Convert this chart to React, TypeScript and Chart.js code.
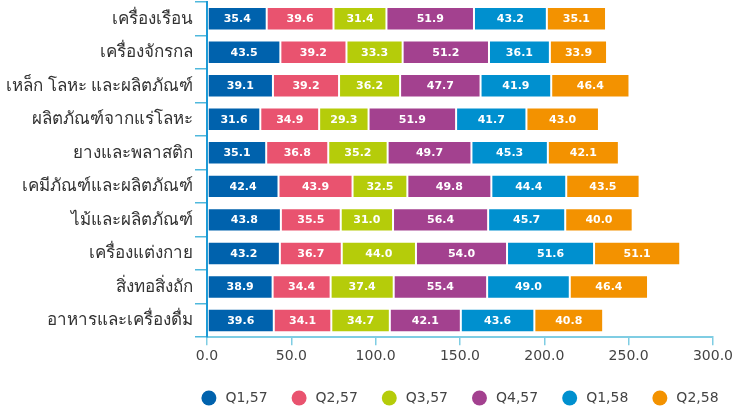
import React, { useEffect, useRef } from "react";
import { Chart, registerables } from "chart.js";

Chart.register(...registerables);

const categories = [
  "เครื่องเรือน",
  "เครื่องจักรกล",
  "เหล็ก โลหะ และผลิตภัณฑ์",
  "ผลิตภัณฑ์จากแร่โลหะ",
  "ยางและพลาสติก",
  "เคมีภัณฑ์และผลิตภัณฑ์",
  "ไม้และผลิตภัณฑ์",
  "เครื่องแต่งกาย",
  "สิ่งทอสิ่งถัก",
  "อาหารและเครื่องดื่ม",
];

const seriesNames = ["Q1,57", "Q2,57", "Q3,57", "Q4,57", "Q1,58", "Q2,58"];
const seriesColors = ["#0062ad", "#e9536f", "#b5cc0a", "#a3418f", "#0090cf", "#f39200"];

const q1_57 = [35.4, 43.5, 39.1, 31.6, 35.1, 42.4, 43.8, 43.2, 38.9, 39.6];
const q2_57 = [39.6, 39.2, 39.2, 34.9, 36.8, 43.9, 35.5, 36.7, 34.4, 34.1];
const q3_57 = [31.4, 33.3, 36.2, 29.3, 35.2, 32.5, 31.0, 44.0, 37.4, 34.7];
const q4_57 = [51.9, 51.2, 47.7, 51.9, 49.7, 49.8, 56.4, 54.0, 55.4, 42.1];
const q1_58 = [43.2, 36.1, 41.9, 41.7, 45.3, 44.4, 45.7, 51.6, 49.0, 43.6];
const q2_58 = [35.1, 33.9, 46.4, 43.0, 42.1, 43.5, 40.0, 51.1, 46.4, 40.8];

const seriesValues = [q1_57, q2_57, q3_57, q4_57, q1_58, q2_58];

const xTicks = [0, 50, 100, 150, 200, 250, 300];

const valueLabels = {
  id: "valueLabels",
  afterDatasetsDraw(chart: any) {
    const ctx = chart.ctx;
    ctx.save();
    ctx.fillStyle = "#ffffff";
    ctx.font = "bold 11px 'DejaVu Sans', sans-serif";
    ctx.textAlign = "center";
    ctx.textBaseline = "middle";
    chart.data.datasets.forEach((ds: any, i: number) => {
      const meta = chart.getDatasetMeta(i);
      meta.data.forEach((el: any, j: number) => {
        const v = ds.data[j];
        const cx = (el.x + el.base) / 2;
        ctx.fillText(Number(v).toFixed(1), cx, el.y + 0.5);
      });
    });
    ctx.restore();
  },
};

const customLegend = {
  id: "customLegend",
  afterDraw(chart: any) {
    const ctx = chart.ctx;
    const area = chart.chartArea;
    const r = 7.5;
    const textGap = 9;
    const itemGap = 24;
    ctx.save();
    ctx.font = "14px 'DejaVu Sans', sans-serif";
    ctx.textBaseline = "middle";
    ctx.textAlign = "left";
    const ds = chart.data.datasets;
    const widths = ds.map((d: any) => 2 * r + textGap + ctx.measureText(d.label).width);
    const total = widths.reduce((a: number, b: number) => a + b, 0) + itemGap * (ds.length - 1);
    let x = (area.left + area.right) / 2 - total / 2;
    const y = chart.height - 12;
    ds.forEach((d: any, i: number) => {
      ctx.beginPath();
      ctx.fillStyle = d.backgroundColor;
      ctx.arc(x + r, y, r, 0, Math.PI * 2);
      ctx.fill();
      ctx.fillStyle = "#444";
      ctx.fillText(d.label, x + 2 * r + textGap, y + 0.5);
      x += widths[i] + itemGap;
    });
    ctx.restore();
  },
};

export default function App() {
  const ref = useRef<HTMLCanvasElement | null>(null);
  useEffect(() => {
    document.body.style.margin = "0";
    if (!ref.current) return;
    const chart = new Chart(ref.current, {
      type: "bar",
      data: {
        labels: categories,
        datasets: seriesNames.map((name, i) => ({
          label: name,
          data: seriesValues[i],
          backgroundColor: seriesColors[i],
          borderColor: "rgba(255,255,255,0.55)",
          borderWidth: 1,
          borderSkipped: false,
          categoryPercentage: 1,
          barPercentage: 0.7,
        })),
      },
      options: {
        indexAxis: "y",
        animation: false,
        responsive: false,
        maintainAspectRatio: false,
        layout: { padding: { top: 2, right: 20, bottom: 42, left: 0 } },
        scales: {
          x: {
            stacked: true,
            min: 0,
            max: 300,
            afterBuildTicks: (scale: any) => {
              scale.ticks = xTicks.map((v) => ({ value: v }));
            },
            ticks: {
              color: "#444",
              font: { size: 14, family: "'DejaVu Sans', sans-serif", lineHeight: 1.2 },
              padding: 3,
              callback: (v: any) => Number(v).toFixed(1),
            },
            grid: { drawOnChartArea: false, drawTicks: true, tickLength: 8, color: "#7fcde3", lineWidth: 1.5 },
            border: { color: "#7fcde3", width: 2 },
          },
          y: {
            stacked: true,
            afterFit: (scale: any) => {
              scale.width = 207;
              scale.paddingTop = 0;
              scale.paddingBottom = 0;
            },
            ticks: {
              color: "#333",
              font: { size: 17, family: "Tahoma, 'Noto Sans', sans-serif" },
              padding: 2,
            },
            grid: { drawOnChartArea: false, drawTicks: true, tickLength: 12, color: "#4fb8dc", lineWidth: 1.5 },
            border: { color: "#1c9ad6", width: 2 },
          },
        },
        plugins: {
          legend: { display: false },
          tooltip: { enabled: false },
        },
      },
      plugins: [valueLabels, customLegend],
    } as any);
    return () => chart.destroy();
  }, []);
  return (
    <div style={{ width: 736, height: 410 }}>
      <canvas ref={ref} width={736} height={410} style={{ width: 736, height: 410, display: "block" }} />
    </div>
  );
}
